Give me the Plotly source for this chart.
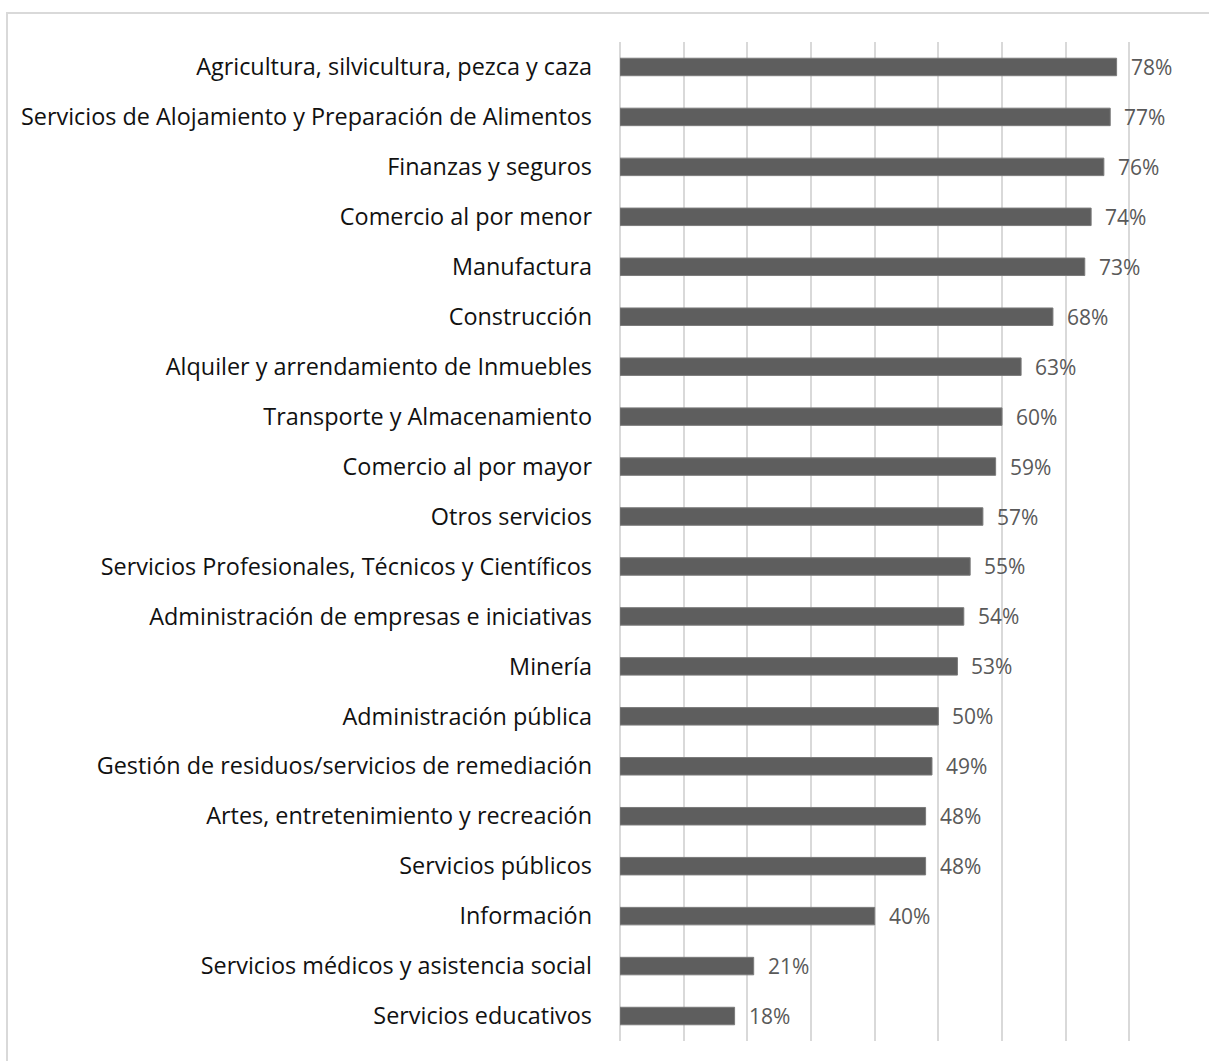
import plotly.graph_objects as go

# Sectors, top to bottom, and the share for each
sectors = [
    "Agricultura, silvicultura, pezca y caza",
    "Servicios de Alojamiento y Preparación de Alimentos",
    "Finanzas y seguros",
    "Comercio al por menor",
    "Manufactura",
    "Construcción",
    "Alquiler y arrendamiento de Inmuebles",
    "Transporte y Almacenamiento",
    "Comercio al por mayor",
    "Otros servicios",
    "Servicios Profesionales, Técnicos y Científicos",
    "Administración de empresas e iniciativas",
    "Minería",
    "Administración pública",
    "Gestión de residuos/servicios de remediación",
    "Artes, entretenimiento y recreación",
    "Servicios públicos",
    "Información",
    "Servicios médicos y asistencia social",
    "Servicios educativos",
]
shares = [0.78, 0.77, 0.76, 0.74, 0.73, 0.68, 0.63, 0.60, 0.59, 0.57,
          0.55, 0.54, 0.53, 0.50, 0.49, 0.48, 0.48, 0.40, 0.21, 0.18]

W, H = 1209, 1061
ML, MR, MT, MB = 620, 16, 42, 20

fig = go.Figure(
    go.Bar(
        x=shares,
        y=sectors,
        orientation="h",
        marker=dict(color="#5e5e5e", line=dict(color="#7a7a7a", width=1)),
        hoverinfo="skip",
    )
)

# Percentage labels just past each bar end
for s, v in zip(sectors, shares):
    fig.add_annotation(
        x=v, y=s, xref="x", yref="y",
        text=f"{round(v * 100)}%",
        showarrow=False, xanchor="left", yanchor="middle",
        xshift=12,
        font=dict(family="Open Sans, sans-serif", size=21, color="#595959"),
    )

# Outer frame of the chart area
pw = W - ML - MR
ph = H - MT - MB
fig.add_shape(
    type="rect", xref="paper", yref="paper", layer="below",
    x0=(7 - ML) / pw, x1=(1215 - ML) / pw,
    y0=(H - MB - 1070) / ph, y1=(H - MB - 13) / ph,
    line=dict(color="#d9d9d9", width=2), fillcolor="rgba(0,0,0,0)",
)

fig.update_layout(
    width=W, height=H,
    margin=dict(l=ML, r=MR, t=MT, b=MB, pad=0),
    paper_bgcolor="white", plot_bgcolor="white",
    bargap=0.65,
    showlegend=False,
    xaxis=dict(
        range=[0, 0.9], dtick=0.1, tick0=0,
        showgrid=True, gridcolor="#d9d9d9", gridwidth=1.5,
        zeroline=True, zerolinecolor="#d9d9d9", zerolinewidth=1.5,
        showticklabels=False, ticks="", showline=False, fixedrange=True,
    ),
    yaxis=dict(
        autorange="reversed", showgrid=False, ticks="", showline=False,
        ticklabelstandoff=27,
        tickfont=dict(family="Open Sans, sans-serif", size=23.4, color="#111111"),
        fixedrange=True,
    ),
)

fig.write_html("out.html")
